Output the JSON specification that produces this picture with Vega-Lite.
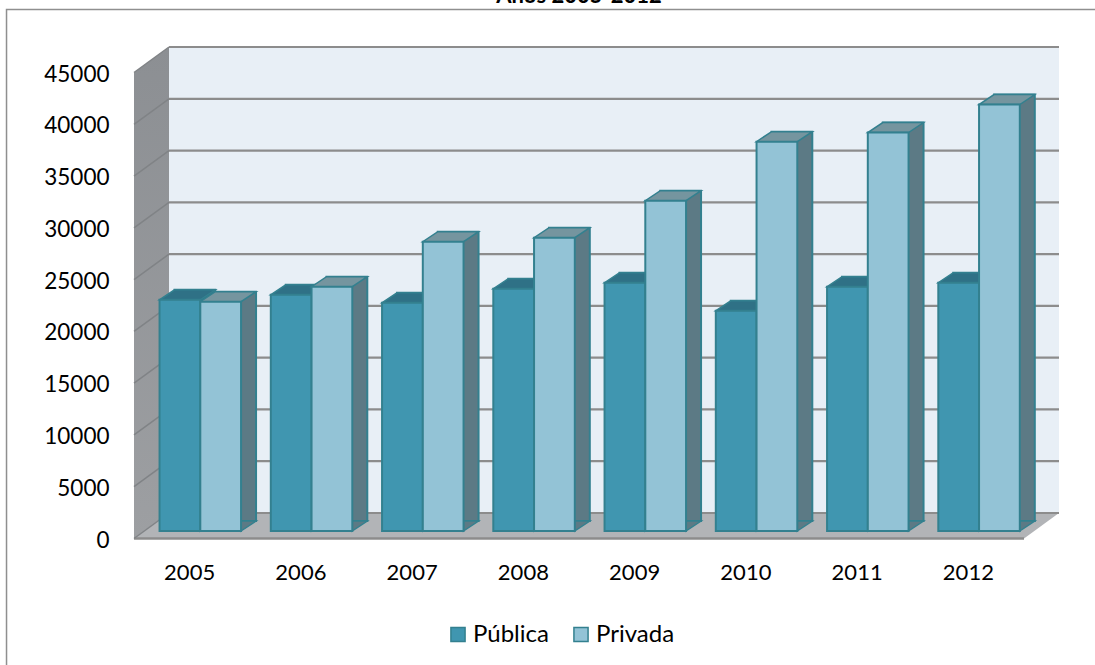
{
"$schema":"https://vega.github.io/schema/vega-lite/v6.json",
"width":890,"height":466,
"autosize":{"type":"none"},
"padding":{"left":134,"top":72.5,"right":71,"bottom":126.5},
"background":"#ffffff",
"config":{"view":{"stroke":null},"font":"Lato"},
"title":{"text":"Anos 2005-2012","font":"Lato","fontSize":22,"fontWeight":"bold","color":"#000000","anchor":"middle","offset":-18,"baseline":"alphabetic"},
"datasets":{
"bars":[
{"year":"2005","type":"Pública","value":22330},{"year":"2005","type":"Privada","value":22140},
{"year":"2006","type":"Pública","value":22810},{"year":"2006","type":"Privada","value":23590},
{"year":"2007","type":"Pública","value":22040},{"year":"2007","type":"Privada","value":27940},
{"year":"2008","type":"Pública","value":23400},{"year":"2008","type":"Privada","value":28320},
{"year":"2009","type":"Pública","value":23980},{"year":"2009","type":"Privada","value":31900},
{"year":"2010","type":"Pública","value":21260},{"year":"2010","type":"Privada","value":37600},
{"year":"2011","type":"Pública","value":23590},{"year":"2011","type":"Privada","value":38480},
{"year":"2012","type":"Pública","value":23980},{"year":"2012","type":"Privada","value":41180}
],
"grid":[{"v":0},{"v":5000},{"v":10000},{"v":15000},{"v":20000},{"v":25000},{"v":30000},{"v":35000},{"v":40000},{"v":45000}],
"anchor":[{"year":"2005","v":0}]
},
"encoding":{
"x":{"field":"year","type":"nominal","scale":{"domain":["2005","2006","2007","2008","2009","2010","2011","2012"],"paddingInner":0.267,"paddingOuter":0.1335},
"axis":{"title":null,"domain":false,"ticks":false,"labelAngle":0,"labelFontSize":22,"labelColor":"#000000","labelPadding":24,"labelFont":"Lato"}},
"y":{"type":"quantitative","scale":{"domain":[0,45000],"nice":false},
"axis":{"title":null,"format":"d","values":[0,5000,10000,15000,20000,25000,30000,35000,40000,45000],"domain":false,"ticks":false,"grid":false,"labelFontSize":22.5,"labelColor":"#000000","labelPadding":25,"labelFont":"Lato","labelOffset":1.5}}
},
"layer":[
{"data":{"name":"anchor"},"mark":{"type":"point","filled":false,"size":4,"opacity":1,"stroke":"#8f8f8f","strokeWidth":1.5,"shape":"M-183.1 126.5 L-183.1 -529 L905.4 -529"},
"encoding":{"x":{"field":"year"},"y":{"field":"v"}}},
{"data":{"name":"anchor"},"mark":{"type":"point","filled":true,"size":4,"fill":"#e8eff6","opacity":1,"shape":"M-20.625 -25.5 L869.375 -25.5 L869.375 -491.5 L-20.625 -491.5 Z"},
"encoding":{"x":{"field":"year"},"y":{"field":"v"}}},
{"data":{"name":"anchor"},"mark":{"type":"point","filled":true,"size":4,"opacity":1,"fill":{"x1":0,"y1":0,"x2":0,"y2":1,"gradient":"linear","stops":[{"offset":0,"color":"#8c8f93"},{"offset":1,"color":"#9d9fa2"}]},"shape":"M-55.625 0 L-20.625 -25.5 L-20.625 -491.5 L-55.625 -466 Z"},
"encoding":{"x":{"field":"year"},"y":{"field":"v"}}},
{"data":{"name":"anchor"},"mark":{"type":"point","filled":true,"size":4,"opacity":1,"fill":"#b2b4b7","strokeWidth":0,"shape":"M-55.625 0 L834.375 0 L869.375 -25.5 L-20.625 -25.5 Z"},
"encoding":{"x":{"field":"year"},"y":{"field":"v"}}},
{"data":{"name":"anchor"},"mark":{"type":"point","filled":false,"size":4,"opacity":1,"stroke":"#8c8c8c","strokeWidth":2.5,"shape":"M-55.625 0 L834.375 0"},
"encoding":{"x":{"field":"year"},"y":{"field":"v"}}},
{"data":{"name":"grid"},"mark":{"type":"point","filled":false,"size":4,"opacity":1,"stroke":"#8c8c8c","strokeWidth":2.2,"shape":"M-20.625 -25.5 L869.375 -25.5"},
"encoding":{"x":{"datum":"2005"},"y":{"field":"v"}}},
{"data":{"name":"grid"},"mark":{"type":"point","filled":false,"size":4,"opacity":1,"stroke":"#808386","strokeWidth":1.5,"shape":"M-55.625 0 L-20.625 -25.5"},
"encoding":{"x":{"datum":"2005"},"y":{"field":"v"}}},
{"data":{"name":"bars"},"mark":{"type":"bar","yOffset":-17.5,"y2Offset":-17.5,"stroke":"#33808f","strokeWidth":2},
"encoding":{"xOffset":{"field":"type","scale":{"domain":["Pública","Privada"],"range":[25.7,107.2]}},"y":{"field":"value","type":"quantitative"},
"color":{"field":"type","scale":{"domain":["Pública","Privada"],"range":["#2f7186","#5c7a85"]},"legend":null}}},
{"data":{"name":"bars"},"mark":{"type":"point","filled":true,"size":4,"opacity":1,"stroke":"#33808f","strokeWidth":1.5,"shape":"M20.375 -7.5 L35.375 -17.5 L20.375 -17.5 Z"},
"encoding":{"x":{"field":"year"},"xOffset":{"field":"type","scale":{"domain":["Pública","Privada"],"range":[10.7,92.2]}},"y":{"datum":0},"fill":{"value":"#5c7a85"}}},
{"data":{"name":"bars"},"mark":{"type":"point","filled":true,"size":4,"opacity":1,"stroke":"#33808f","strokeWidth":1.5,"shape":"M-20.375 -7.5 L20.375 -7.5 L35.375 -17.5 L-5.375 -17.5 Z"},
"encoding":{"x":{"field":"year"},"xOffset":{"field":"type","scale":{"domain":["Pública","Privada"],"range":[10.7,92.2]}},"y":{"field":"value","type":"quantitative"},
"fill":{"field":"type","scale":{"domain":["Pública","Privada"],"range":["#2f7186","#75959f"]},"legend":null}}},
{"data":{"name":"bars"},"mark":{"type":"bar","yOffset":-7.5,"y2Offset":-7.5,"stroke":"#33808f","strokeWidth":2},
"encoding":{"xOffset":{"field":"type","scale":{"domain":["Pública","Privada"],"range":[10.7,92.2]}},"y":{"field":"value","type":"quantitative"},
"color":{"field":"type","title":null,"scale":{"domain":["Pública","Privada"],"range":["#4096b0","#93c3d6"]},
"legend":{"orient":"none","legendX":312,"legendY":550,"direction":"horizontal","title":null,"symbolType":"square","symbolSize":200,"symbolStrokeColor":"#33808f","symbolStrokeWidth":1.5,"labelFontSize":24,"labelColor":"#000000","labelFont":"Lato","columnPadding":20,"labelOffset":3}}}}
],
"resolve":{"scale":{"fill":"independent","color":"independent","xOffset":"independent"}}
}
